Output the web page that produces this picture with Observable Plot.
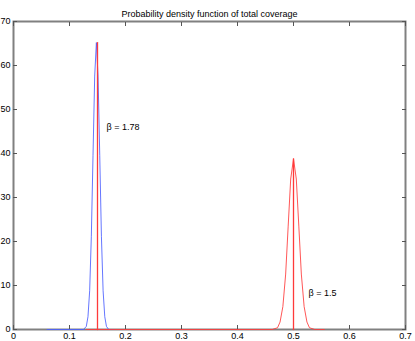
<!DOCTYPE html>
<html><head><meta charset="utf-8">
<script src="https://cdn.jsdelivr.net/npm/d3@7"></script>
<script src="https://cdn.jsdelivr.net/npm/@observablehq/plot@0.6"></script>
<style>html,body{margin:0;padding:0;background:#fff}</style>
</head><body><div id="chart"></div>
<script>
const title = "Probability density function of total coverage";
const xTicks = [0, 0.1, 0.2, 0.3, 0.4, 0.5, 0.6, 0.7];
const xTickLabels = ["0", "0.1", "0.2", "0.3", "0.4", "0.5", "0.6", "0.7"];
const yTicks = [0, 10, 20, 30, 40, 50, 60, 70];
const yTickLabels = ["0", "10", "20", "30", "40", "50", "60", "70"];

// blue curve
const blueX = [0.06, 0.125, 0.130, 0.133, 0.136, 0.139, 0.142, 0.145, 0.148, 0.151, 0.154, 0.157, 0.160, 0.163, 0.166, 0.170, 0.18];
const blueY = [0, 0, 0.7, 2.9, 8.8, 21.2, 39.6, 57.6, 65.2, 57.6, 39.6, 21.2, 8.8, 2.9, 0.7, 0, 0];

// red curve
const redX = [0.13, 0.462, 0.4715, 0.476, 0.481, 0.486, 0.4905, 0.495, 0.5, 0.505, 0.5095, 0.514, 0.519, 0.524, 0.5285, 0.538, 0.555];
const redY = [0, 0, 0.4, 1.7, 5.2, 12.6, 23.5, 34.2, 38.8, 34.2, 23.5, 12.6, 5.2, 1.7, 0.4, 0, 0];
// red vertical spikes
const spikeX = [0.15, 0.5];
const spikeY = [65.2, 38.8];

// annotations
const labels = ["β = 1.78", "β = 1.5"];
const labelX = [0.166, 0.527];
const labelY = [46, 8.2];

const blue = blueX.map((x, i) => ({x, y: blueY[i]}));
const red = redX.map((x, i) => ({x, y: redY[i]}));
const spikePts = spikeX.flatMap((x, i) => [{id: i, x, y: 0}, {id: i, x, y: spikeY[i]}]);
const notes = labels.map((t, i) => ({t, x: labelX[i], y: labelY[i]}));

const BLUE = "#4a5eff", RED = "#ff3a3a";
const plot = Plot.plot({
  width: 415, height: 341,
  marginLeft: 13, marginRight: 10, marginTop: 21, marginBottom: 12,
  style: {fontFamily: "'Liberation Sans', Arial, sans-serif", fontSize: "9px", background: "#fff", color: "#000"},
  x: {domain: [0, 0.7], label: null},
  y: {domain: [0, 70], label: null},
  marks: [
    Plot.frame({stroke: "#808080", strokeWidth: 2}),
    Plot.axisX({anchor: "bottom", ticks: xTicks, tickSize: -4, tickPadding: 7, stroke: "#555", tickFormat: (d, i) => xTickLabels[i], fill: "#000", label: null}),
    Plot.axisX({anchor: "top", ticks: xTicks, tickSize: -4, stroke: "#555", tickFormat: () => "", label: null}),
    Plot.axisY({anchor: "left", ticks: yTicks, tickSize: -4, tickPadding: 7, stroke: "#555", tickFormat: (d, i) => yTickLabels[i], fill: "#000", label: null}),
    Plot.axisY({anchor: "right", ticks: yTicks, tickSize: -4, stroke: "#555", tickFormat: () => "", label: null}),
    Plot.line(blue, {x: "x", y: "y", stroke: BLUE, strokeWidth: 1, strokeOpacity: 0.85}),
    Plot.line(red, {x: "x", y: "y", stroke: RED, strokeWidth: 1, strokeOpacity: 0.85}),
    Plot.line(spikePts, {x: "x", y: "y", z: "id", stroke: RED, strokeWidth: 1.3}),
    Plot.text(notes, {x: "x", y: "y", text: "t", textAnchor: "start", fontSize: 9, fill: "#000"}),
    Plot.text([title], {frameAnchor: "top", text: d => d, dy: -11, fontSize: 9, fill: "#000"})
  ]
});
document.getElementById("chart").appendChild(plot);
</script>
</body></html>
